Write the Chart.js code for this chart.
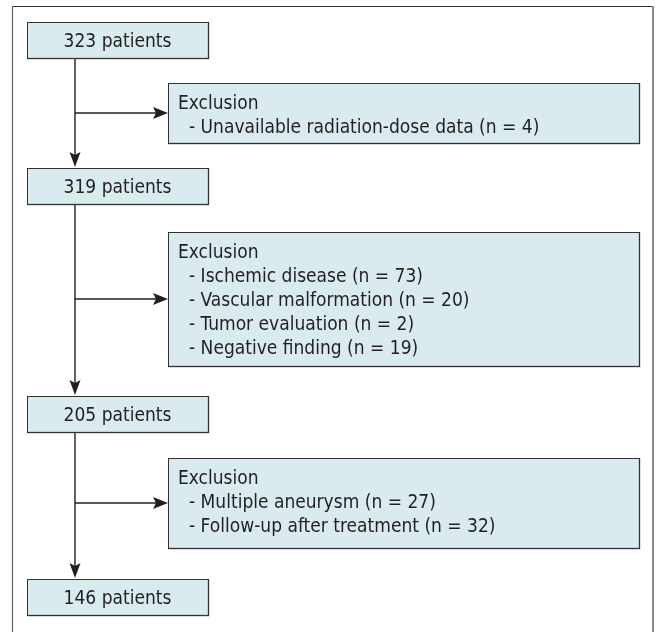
<!DOCTYPE html>
<html><head><meta charset="utf-8">
<script src="https://cdn.jsdelivr.net/npm/chart.js@4"></script>
<style>html,body{margin:0;padding:0;background:#fff}#wrap{width:657px;height:632px}</style>
</head><body><div id="wrap"><canvas id="c" width="657" height="632"></canvas></div>
<script>
// ---- data ----
const stageCounts = [323, 319, 205, 146];
const stageLabel = "patients";
const exclusionTitle = "Exclusion";
const exclusionReasons = [
  ["Unavailable radiation-dose data"],
  ["Ischemic disease", "Vascular malformation", "Tumor evaluation", "Negative finding"],
  ["Multiple aneurysm", "Follow-up after treatment"]
];
const exclusionCounts = [[4], [73, 20, 2, 19], [27, 32]];

// ---- layout (canvas units) ----
const stageBoxX = [27, 208];
const stageBoxTop = [22, 168, 396, 579];
const stageBoxH = 36;
const spineX = 75;
const exclBoxX = [168, 639];
const exclBoxY = [[83, 143], [232, 366], [458, 548]];
const branchY = [113, 299, 503];

const FONT = '19px "DejaVu Sans Condensed", "DejaVu Sans", sans-serif';
const INK = '#231f20';

const lineDatasets = [];
for (let i = 0; i < stageCounts.length - 1; i++) {
  lineDatasets.push({ data: [{x: spineX, y: stageBoxTop[i] + stageBoxH}, {x: spineX, y: stageBoxTop[i+1] - 12}] });
}
for (let i = 0; i < branchY.length; i++) {
  lineDatasets.push({ data: [{x: spineX, y: branchY[i]}, {x: exclBoxX[0] - 12, y: branchY[i]}] });
}
lineDatasets.forEach(d => Object.assign(d, {
  type: 'scatter', showLine: true, borderColor: INK, borderWidth: 1.4, pointRadius: 0, fill: false
}));

const flowPlugin = {
  id: 'flow',
  beforeDatasetsDraw(chart) {
    const {ctx, scales: {x, y}} = chart;
    ctx.save();
    ctx.lineWidth = 1.2; ctx.strokeStyle = '#333';
    ctx.beginPath(); ctx.moveTo(x.getPixelForValue(12), y.getPixelForValue(6.5)); ctx.lineTo(x.getPixelForValue(653), y.getPixelForValue(6.5)); ctx.stroke();
    ctx.strokeStyle = '#666';
    ctx.beginPath(); ctx.moveTo(x.getPixelForValue(12.5), y.getPixelForValue(6)); ctx.lineTo(x.getPixelForValue(12.5), y.getPixelForValue(632)); ctx.stroke();
    ctx.strokeStyle = '#8a8a8a'; ctx.lineWidth = 2;
    ctx.beginPath(); ctx.moveTo(x.getPixelForValue(653), y.getPixelForValue(6)); ctx.lineTo(x.getPixelForValue(653), y.getPixelForValue(632)); ctx.stroke();
    ctx.restore();
  },
  afterDatasetsDraw(chart) {
    const {ctx, scales: {x, y}} = chart;
    const box = (x0, y0, x1, y1) => {
      const px0 = x.getPixelForValue(x0), px1 = x.getPixelForValue(x1);
      const py0 = y.getPixelForValue(y0), py1 = y.getPixelForValue(y1);
      ctx.fillStyle = '#d9ebee';
      ctx.fillRect(px0, py0, px1 - px0, py1 - py0);
      ctx.strokeStyle = '#7a7a7a'; ctx.lineWidth = 1.5;
      ctx.beginPath(); ctx.moveTo(px1 + 0.5, py0); ctx.lineTo(px1 + 0.5, py1 + 0.5); ctx.lineTo(px0, py1 + 0.5); ctx.stroke();
      ctx.strokeStyle = '#333'; ctx.lineWidth = 1;
      ctx.strokeRect(Math.round(px0) + 0.5, Math.round(py0) + 0.5, Math.round(px1 - px0), Math.round(py1 - py0));
    };
    ctx.save();
    ctx.font = FONT;
    stageCounts.forEach((n, i) => {
      box(stageBoxX[0], stageBoxTop[i], stageBoxX[1], stageBoxTop[i] + stageBoxH);
      ctx.fillStyle = INK; ctx.textAlign = 'center'; ctx.textBaseline = 'alphabetic';
      ctx.fillText(n + ' ' + stageLabel, x.getPixelForValue((stageBoxX[0] + stageBoxX[1]) / 2), y.getPixelForValue(stageBoxTop[i] + 25));
    });
    exclusionReasons.forEach((reasons, i) => {
      const [t, b] = exclBoxY[i];
      box(exclBoxX[0], t, exclBoxX[1], b);
      ctx.fillStyle = INK; ctx.textAlign = 'left'; ctx.textBaseline = 'alphabetic';
      ctx.fillText(exclusionTitle, x.getPixelForValue(exclBoxX[0] + 10), y.getPixelForValue(t + 26));
      reasons.forEach((r, j) => {
        ctx.fillText('- ' + r + ' (n = ' + exclusionCounts[i][j] + ')', x.getPixelForValue(exclBoxX[0] + 21), y.getPixelForValue(t + 50 + j * 24));
      });
    });
    ctx.fillStyle = INK;
    const head = (tx, ty, dir) => {
      const px = x.getPixelForValue(tx), py = y.getPixelForValue(ty);
      ctx.beginPath();
      if (dir === 'down') { ctx.moveTo(px, py); ctx.lineTo(px - 5.5, py - 15); ctx.lineTo(px, py - 12); ctx.lineTo(px + 5.5, py - 15); }
      else { ctx.moveTo(px, py); ctx.lineTo(px - 15, py - 6); ctx.lineTo(px - 12, py); ctx.lineTo(px - 15, py + 6); }
      ctx.closePath(); ctx.fill();
    };
    for (let i = 1; i < stageBoxTop.length; i++) head(spineX, stageBoxTop[i] - 1, 'down');
    branchY.forEach(by => head(exclBoxX[0], by, 'right'));
    ctx.restore();
  }
};

new Chart(document.getElementById('c'), {
  type: 'scatter',
  data: { datasets: lineDatasets },
  options: {
    responsive: false, animation: false, devicePixelRatio: 1,
    layout: { padding: 0 },
    plugins: { legend: { display: false }, tooltip: { enabled: false } },
    scales: {
      x: { type: 'linear', min: 0, max: 657, display: false },
      y: { type: 'linear', min: 0, max: 632, reverse: true, display: false }
    }
  },
  plugins: [flowPlugin]
});
</script></body></html>
